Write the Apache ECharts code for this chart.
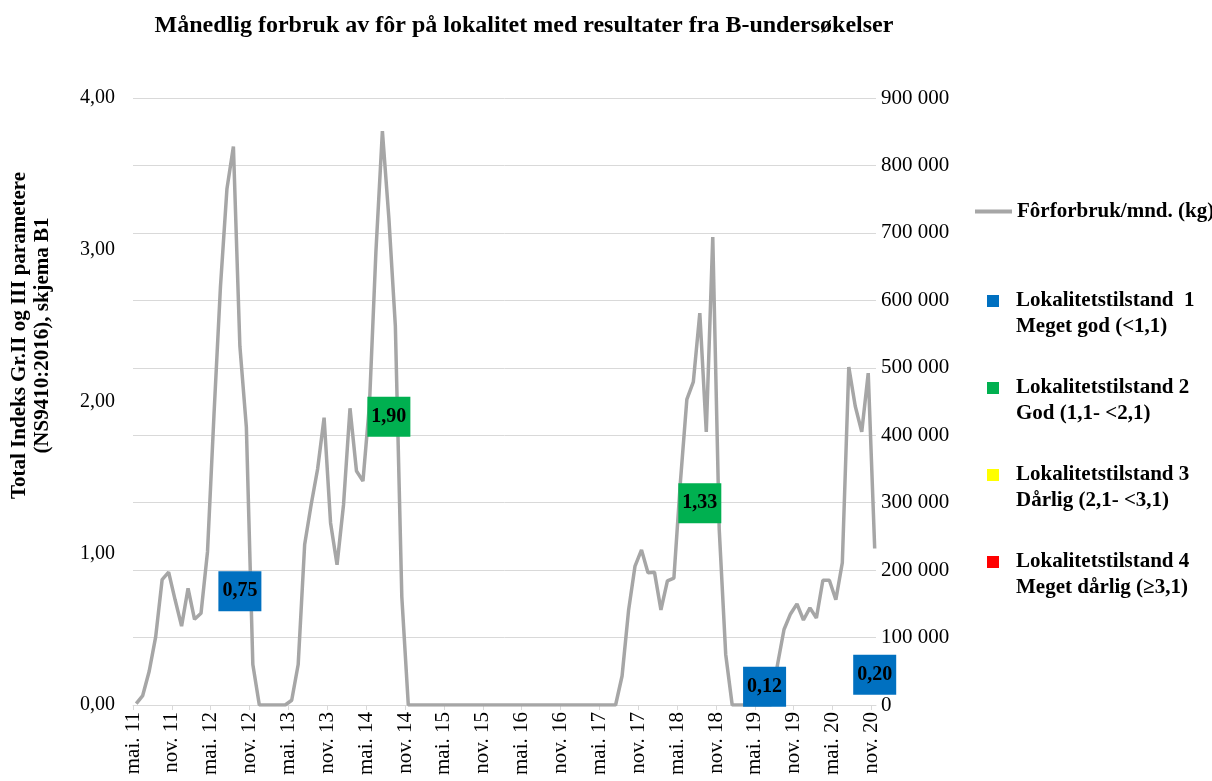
<!DOCTYPE html>
<html>
<head>
<meta charset="utf-8">
<title>Månedlig forbruk av fôr</title>
<script src="https://cdn.jsdelivr.net/npm/echarts@6/dist/echarts.min.js"></script>
<style>
    html, body { margin: 0; padding: 0; background: #fff; }
    #chart { width: 1212px; height: 781px; }
</style>
</head>
<body>
<div id="chart"></div>
<script>
// x = months since mai 2011; Excel plots each month in the middle of the month
const tickLabels = ['mai. 11', 'nov. 11', 'mai. 12', 'nov. 12', 'mai. 13', 'nov. 13', 'mai. 14', 'nov. 14',
    'mai. 15', 'nov. 15', 'mai. 16', 'nov. 16', 'mai. 17', 'nov. 17', 'mai. 18', 'nov. 18',
    'mai. 19', 'nov. 19', 'mai. 20', 'nov. 20'];

// fôrforbruk per måned (kg), mai 2011 - nov 2020
const feedKg = [
    2000, 14000, 50000, 101000, 186000, 197000, 156000, 117000, 173000, 127000, 136000, 227000,
    430000, 620000, 765000, 828000, 532000, 412000, 60000, 0, 0, 0, 0, 0,
    7000, 60000, 238000, 297000, 350000, 426000, 270000, 208000, 297000, 440000, 347000, 332000,
    445000, 672000, 851000, 722000, 562000, 160000, 0, 0, 0, 0, 0, 0,
    0, 0, 0, 0, 0, 0, 0, 0, 0, 0, 0, 0,
    0, 0, 0, 0, 0, 0, 0, 0, 0, 0, 0, 0,
    0, 0, 0, 43000, 140000, 206000, 230000, 196000, 197000, 141000, 184000, 188000,
    330000, 453000, 479000, 581000, 405000, 694000, 260000, 75000, 0, 0, 0, 0,
    0, 0, 0, 60000, 112000, 135000, 150000, 126000, 144000, 129000, 185000, 185000,
    156000, 211000, 501000, 443000, 405000, 492000, 232000
];

// B-undersøkelser: måned (indeks) og total indeks
const state1Months = [16, 97, 114];
const state1Values = [0.75, 0.12, 0.20];
const state2Months = [39, 87];
const state2Values = [1.90, 1.33];
const state3Months = [];
const state3Values = [];
const state4Months = [];
const state4Values = [];

const stateNames = [
    'Lokalitetstilstand  1\nMeget god (<1,1)',
    'Lokalitetstilstand 2\nGod (1,1- <2,1)',
    'Lokalitetstilstand 3\nDårlig (2,1- <3,1)',
    'Lokalitetstilstand 4\nMeget dårlig (≥3,1)'
];
const stateColors = ['#0070c0', '#00b050', '#ffff00', '#ff0000'];
const lineName = 'Fôrforbruk/mnd. (kg)';

const serif = 'Liberation Serif';
const tickValues = tickLabels.map((_, i) => i * 6);

const chart = echarts.init(document.getElementById('chart'));

function stateSeries(idx, months, values) {
    return {
        name: stateNames[idx],
        type: 'scatter',
        yAxisIndex: 0,
        symbol: 'rect',
        symbolSize: [43, 40],
        z: 5,
        itemStyle: { color: stateColors[idx], opacity: 1 },
        label: {
            show: true,
            position: 'inside',
            formatter: p => p.value[1].toFixed(2).replace('.', ','),
            fontFamily: serif,
            fontWeight: 'bold',
            fontSize: 20,
            color: '#000'
        },
        data: months.map((m, i) => [m + 0.5, values[i]])
    };
}

const option = {
    backgroundColor: '#fff',
    animation: false,
    title: {
        text: 'Månedlig forbruk av fôr på lokalitet med resultater fra B-undersøkelser',
        left: 519,
        top: 9,
        textAlign: 'center',
        textStyle: { fontFamily: serif, fontWeight: 'bold', fontSize: 24, color: '#000' }
    },
    legend: [
        {
            data: [{ name: lineName, icon: 'rect' }],
            left: 975,
            top: 201,
            padding: 0,
            itemWidth: 37,
            itemHeight: 4,
            selectedMode: false,
            textStyle: { fontFamily: serif, fontWeight: 'bold', fontSize: 21, color: '#000' }
        },
        {
            data: stateNames.map(n => ({ name: n, icon: 'rect' })),
            orient: 'vertical',
            left: 987,
            top: 262,
            padding: 0,
            itemWidth: 12,
            itemHeight: 12,
            itemGap: 9,
            selectedMode: false,
            // blank first line keeps the square level with the first text line
            formatter: n => '\u00a0\n' + n,
            textStyle: {
                fontFamily: serif, fontWeight: 'bold', fontSize: 21, color: '#000',
                lineHeight: 26, padding: [0, 0, 0, 12]
            }
        }
    ],
    grid: { left: 133, right: 336, top: 98, bottom: 76, outerBoundsMode: 'none' },
    xAxis: {
        type: 'value',
        min: 0,
        max: 114.7,
        axisLine: { show: true, lineStyle: { color: '#d9d9d9', width: 1 } },
        axisTick: { show: true, length: 5, customValues: tickValues, lineStyle: { color: '#d9d9d9' } },
        axisLabel: {
            customValues: tickValues,
            rotate: 90,
            margin: 7,
            formatter: v => tickLabels[Math.round(v / 6)] || '',
            fontFamily: serif,
            fontSize: 21,
            color: '#000'
        },
        splitLine: { show: false }
    },
    yAxis: [
        {
            type: 'value',
            min: 0,
            max: 4,
            interval: 1,
            name: 'Total Indeks Gr.II og III parametere\n(NS9410:2016), skjema B1',
            nameLocation: 'middle',
            nameGap: 79,
            nameTextStyle: {
                fontFamily: serif, fontWeight: 'bold', fontSize: 21, color: '#000',
                lineHeight: 23, padding: [0, 0, 0, 132]
            },
            axisLine: { show: false },
            axisTick: { show: false },
            axisLabel: {
                margin: 18,
                formatter: v => v.toFixed(2).replace('.', ','),
                fontFamily: serif, fontSize: 20, color: '#000'
            },
            splitLine: { show: false }
        },
        {
            type: 'value',
            min: 0,
            max: 900000,
            interval: 100000,
            position: 'right',
            axisLine: { show: false },
            axisTick: { show: false },
            axisLabel: {
                margin: 5,
                formatter: v => String(v).replace(/\B(?=(\d{3})+(?!\d))/g, ' '),
                fontFamily: serif, fontSize: 21, color: '#000'
            },
            splitLine: { show: true, lineStyle: { color: '#d9d9d9', width: 1 } }
        }
    ],
    series: [
        {
            name: lineName,
            type: 'line',
            yAxisIndex: 1,
            symbol: 'none',
            color: '#a6a6a6',
            lineStyle: { color: '#a6a6a6', width: 3.5 },
            z: 3,
            data: feedKg.map((v, i) => [i + 0.5, v])
        },
        stateSeries(0, state1Months, state1Values),
        stateSeries(1, state2Months, state2Values),
        stateSeries(2, state3Months, state3Values),
        stateSeries(3, state4Months, state4Values)
    ]
};

chart.setOption(option);
</script>
</body>
</html>
